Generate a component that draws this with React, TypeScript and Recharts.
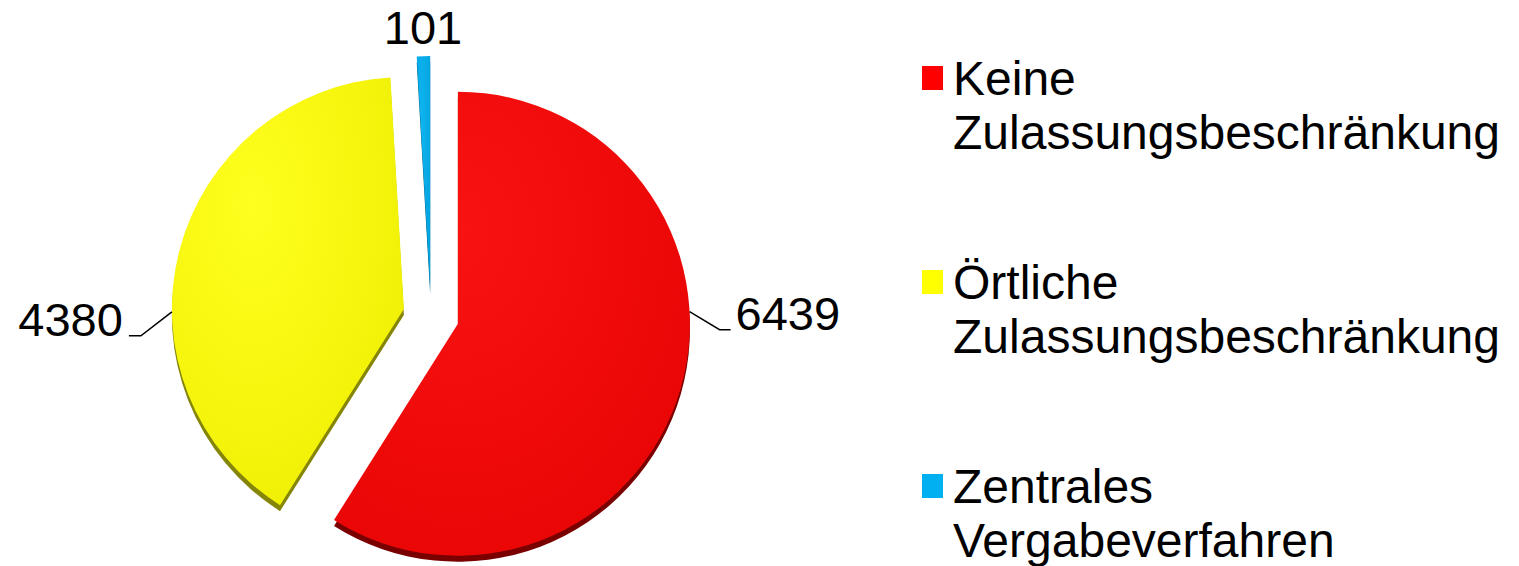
import React from 'react';
import { PieChart, Pie, Cell, Legend } from 'recharts';

// ---------- data ----------
const categories = [
  'Keine Zulassungsbeschränkung',
  'Örtliche Zulassungsbeschränkung',
  'Zentrales Vergabeverfahren',
];
const values = [6439, 4380, 101];
const valueLabels = ['6439', '4380', '101'];

// ---------- style ----------
const legendColors = ['#ff0000', '#ffff00', '#00b0f0'];
const gradLight = ['#f91212', '#ffff1e', '#10b4f0'];
const gradDark = ['#e80404', '#eeee02', '#00a2de'];
const sideColors = ['#7a0000', '#85850a', '#005c80'];

const W = 1519;
const H = 566;
const BASE_CX = 431;
const BASE_CY = 316;
const R = 232;
const EXPLODE = 28;
const DEPTH = 6;
const FONT = '"Liberation Sans", Arial, sans-serif';

const data = categories.map((name, i) => ({ name, value: values[i] }));
const total = values.reduce((a, b) => a + b, 0);

// mid angle of each slice, clockwise from 12 o'clock (degrees)
const midAngles: number[] = (() => {
  let acc = 0;
  return values.map((v) => {
    const span = (v / total) * 360;
    const m = acc + span / 2;
    acc += span;
    return m;
  });
})();

const offsets = midAngles.map((m) => {
  const rad = (m * Math.PI) / 180;
  return { dx: EXPLODE * Math.sin(rad), dy: -EXPLODE * Math.cos(rad) };
});

const makeLabel = (target: number) => (props: any) => {
  if (props.index !== target) return null;
  const cx = props.cx as number;
  const cy = props.cy as number;
  const text = valueLabels[target];
  const common = { fontFamily: FONT, fontSize: 47, fill: '#000' };
  if (target === 0) {
    const a = (-3 * Math.PI) / 180;
    const x0 = cx + R * Math.cos(a);
    const y0 = cy + R * Math.sin(a);
    const x1 = x0 + 30;
    const y1 = y0 + 18;
    const x2 = x1 + 11;
    return (
      <g>
        <polyline points={`${x0},${y0} ${x1},${y1} ${x2},${y1}`} fill="none" stroke="#000" strokeWidth={1.5} />
        <text x={x2 + 5} y={y1} textAnchor="start" {...common}>{text}</text>
      </g>
    );
  }
  if (target === 1) {
    const a = (180.7 * Math.PI) / 180;
    const x0 = cx + R * Math.cos(a);
    const y0 = cy - R * Math.sin(a);
    const x1 = x0 - 31;
    const y1 = y0 + 24;
    const x2 = x1 - 12;
    return (
      <g>
        <polyline points={`${x0},${y0} ${x1},${y1} ${x2},${y1}`} fill="none" stroke="#000" strokeWidth={1.5} />
        <text x={x2 - 6} y={y1} textAnchor="end" {...common}>{text}</text>
      </g>
    );
  }
  const ma = ((props.midAngle as number) * Math.PI) / 180;
  const x = cx + (R + 14) * Math.cos(ma);
  const y = cy - R - 12;
  return (
    <text x={x} y={y} textAnchor="middle" {...common}>{text}</text>
  );
};

const LegendContent = () => (
  <div style={{ position: 'relative', width: 600, height: 520, fontFamily: FONT }}>
    {categories.map((name, i) => {
      const parts = name.split(' ');
      return (
        <div key={name} style={{ position: 'absolute', left: 0, top: i * 204 }}>
          <div
            style={{
              position: 'absolute',
              left: 8,
              top: 16,
              width: 21,
              height: 24,
              background: legendColors[i],
            }}
          />
          <div style={{ position: 'absolute', left: 39, top: 2, fontSize: 48, lineHeight: '54px', color: '#000', whiteSpace: 'nowrap' }}>
            <div>{parts[0]}</div>
            <div>{parts.slice(1).join(' ')}</div>
          </div>
        </div>
      );
    })}
  </div>
);

export default function App() {
  return (
    <div style={{ position: 'absolute', left: 0, top: 0, width: W, height: H, background: '#fff' }}>
      <PieChart width={W} height={H} margin={{ top: 0, right: 0, bottom: 0, left: 0 }}>
        <defs>
          {categories.map((_, i) => (
            <radialGradient key={i} id={`grad${i}`} cx="35%" cy="30%" r="85%">
              <stop offset="0%" stopColor={gradLight[i]} />
              <stop offset="100%" stopColor={gradDark[i]} />
            </radialGradient>
          ))}
        </defs>
        {/* 3D side layers */}
        {categories.map((_, t) => (
          <Pie
            key={`side${t}`}
            data={data}
            dataKey="value"
            nameKey="name"
            cx={BASE_CX + offsets[t].dx}
            cy={BASE_CY + offsets[t].dy + DEPTH}
            outerRadius={R}
            startAngle={90}
            endAngle={-270}
            stroke="none"
            isAnimationActive={false}
            labelLine={false}
            label={false}
            legendType="none"
          >
            {data.map((_, i) => (
              <Cell key={i} fill={i === t ? sideColors[i] : 'none'} />
            ))}
          </Pie>
        ))}
        {/* top faces */}
        {categories.map((_, t) => (
          <Pie
            key={`top${t}`}
            data={data}
            dataKey="value"
            nameKey="name"
            cx={BASE_CX + offsets[t].dx}
            cy={BASE_CY + offsets[t].dy}
            outerRadius={R}
            startAngle={90}
            endAngle={-270}
            stroke="none"
            isAnimationActive={false}
            labelLine={false}
            label={makeLabel(t)}
            legendType="none"
          >
            {data.map((_, i) => (
              <Cell key={i} fill={i === t ? `url(#grad${i})` : 'none'} />
            ))}
          </Pie>
        ))}
        <Legend
          layout="vertical"
          align="right"
          verticalAlign="middle"
          content={LegendContent}
          wrapperStyle={{ position: 'absolute', left: 914, top: 50, width: 600, height: 520 }}
        />
      </PieChart>
    </div>
  );
}
